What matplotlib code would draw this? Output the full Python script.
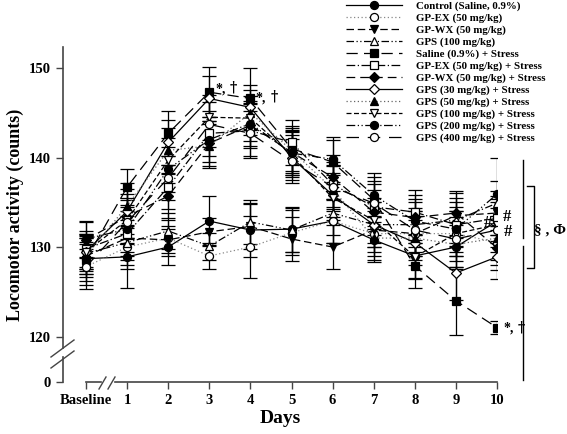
import numpy as np
import matplotlib
matplotlib.use('Agg')
from matplotlib import pyplot as plt
from matplotlib.lines import Line2D

plt.rcParams['font.family'] = ['Liberation Serif', 'DejaVu Serif']
plt.rcParams['font.weight'] = 'bold'

days = [0, 1, 2, 3, 4, 5, 6, 7, 8, 9, 10]
day_labels = ['Baseline', '1', '2', '3', '4', '5', '6', '7', '8', '9', '10']

# means (counts), baseline then day 1..10
control = [128.7, 128.9, 130.0, 132.9, 131.9, 132.0, 132.9, 130.8, 129.0, 130.0, 132.9]
gp_ex = [127.8, 130.0, 131.0, 129.0, 130.0, 131.6, 132.9, 131.5, 131.5, 131.5, 130.5]
gp_wx = [129.0, 131.0, 130.8, 131.7, 132.3, 130.9, 130.0, 131.9, 131.5, 133.5, 133.8]
gps100 = [129.3, 130.5, 131.8, 130.1, 132.8, 131.9, 133.8, 132.5, 132.5, 133.0, 134.9]
saline_s = [128.6, 136.7, 142.7, 147.3, 146.6, 141.0, 139.5, 135.3, 127.9, 124.0, 121.0]
gp_ex_s = [129.8, 131.5, 136.7, 142.7, 143.0, 141.7, 137.0, 134.5, 133.9, 132.5, 133.2]
gp_wx_s = [130.8, 133.4, 135.7, 141.6, 143.6, 140.6, 137.8, 133.9, 133.3, 133.8, 129.9]
gps30_s = [129.5, 134.0, 141.7, 146.6, 145.6, 140.0, 135.8, 132.5, 130.5, 127.1, 128.9]
gps50_s = [129.0, 134.6, 140.8, 141.3, 145.0, 140.8, 136.5, 131.0, 131.0, 130.3, 131.0]
gps100_s = [129.5, 133.0, 139.7, 144.5, 144.4, 140.3, 135.5, 133.0, 128.9, 131.5, 132.5]
gps200_s = [130.9, 132.0, 138.7, 142.0, 143.8, 140.5, 139.8, 135.8, 132.9, 132.0, 135.9]
gps400_s = [127.8, 132.8, 137.7, 143.7, 142.7, 139.6, 136.7, 134.9, 131.9, 130.9, 131.9]

# SEM
control_e = [2.5, 3.5, 2.0, 2.8, 3.0, 2.5, 2.5, 2.5, 2.5, 2.5, 2.5]
gp_ex_e = [2.5, 2.5, 2.0, 1.5, 3.5, 2.5, 2.5, 2.5, 2.5, 2.5, 2.5]
gp_wx_e = [2.0, 2.5, 1.5, 1.5, 2.5, 2.5, 2.5, 2.5, 2.5, 2.5, 2.5]
gps100_e = [2.0, 2.5, 2.0, 1.5, 2.5, 2.5, 2.5, 2.5, 2.5, 2.5, 2.5]
saline_s_e = [2.0, 2.0, 2.5, 2.8, 3.4, 2.5, 2.5, 2.5, 2.5, 3.8, 0.7]
gp_ex_s_e = [2.0, 2.5, 2.5, 2.5, 3.0, 2.5, 2.5, 2.5, 2.5, 2.5, 2.5]
gp_wx_s_e = [2.0, 2.5, 2.5, 2.5, 2.5, 2.5, 2.5, 2.5, 2.5, 2.5, 2.5]
gps30_s_e = [2.0, 2.5, 2.5, 2.5, 2.5, 2.5, 2.5, 2.5, 2.5, 3.0, 2.5]
gps50_s_e = [2.0, 2.5, 2.5, 2.5, 2.5, 2.5, 2.5, 2.5, 2.5, 2.5, 2.5]
gps100_s_e = [2.0, 2.5, 2.5, 2.5, 2.5, 2.5, 2.5, 2.5, 2.5, 2.5, 2.5]
gps200_s_e = [2.0, 2.5, 2.5, 2.5, 2.5, 2.5, 2.5, 2.5, 2.5, 2.5, 4.0]
gps400_s_e = [2.0, 2.5, 2.5, 2.5, 2.5, 2.5, 2.5, 2.5, 2.5, 2.5, 2.5]

labels = ['Control (Saline, 0.9%)', 'GP-EX (50 mg/kg)', 'GP-WX (50 mg/kg)', 'GPS (100 mg/kg)',
          'Saline (0.9%) + Stress', 'GP-EX (50 mg/kg) + Stress', 'GP-WX (50 mg/kg) + Stress',
          'GPS (30 mg/kg) + Stress', 'GPS (50 mg/kg) + Stress', 'GPS (100 mg/kg) + Stress',
          'GPS (200 mg/kg) + Stress', 'GPS (400 mg/kg) + Stress']
means = [control, gp_ex, gp_wx, gps100, saline_s, gp_ex_s, gp_wx_s, gps30_s, gps50_s,
         gps100_s, gps200_s, gps400_s]
errs = [control_e, gp_ex_e, gp_wx_e, gps100_e, saline_s_e, gp_ex_s_e, gp_wx_s_e, gps30_s_e,
        gps50_s_e, gps100_s_e, gps200_s_e, gps400_s_e]

# (linestyle, marker, filled, line colour)
styles = [
    ('-', 'o', True, 'black'),
    ((0, (1, 2)), 'o', False, '#888888'),
    ((0, (6, 3)), 'v', True, 'black'),
    ((0, (6, 2, 1, 2, 1, 2)), '^', False, 'black'),
    ((0, (9, 5)), 's', True, 'black'),
    ((0, (7, 2, 1, 2)), 's', False, 'black'),
    ((0, (7, 4)), 'D', True, 'black'),
    ('-', 'D', False, 'black'),
    ((0, (1, 2)), '^', True, '#666666'),
    ((0, (4, 2)), 'v', False, 'black'),
    ((0, (7, 2, 1, 2, 1, 2)), 'o', True, 'black'),
    ((0, (10, 7)), 'o', False, 'black'),
]

fig = plt.figure(figsize=(5.67, 4.34), dpi=100)
ax = fig.add_axes([63 / 567, 1 - 382 / 434, (497 - 63) / 567, (382 - 47) / 434])

handles = []
for m, e, lab, (ls, mk, filled, lc) in zip(means, errs, labels, styles):
    ms = 5.8 if mk != 'D' else 5.0
    ax.errorbar(days, m, yerr=e, fmt='none', ecolor='black', elinewidth=0.9,
                capsize=5, capthick=0.9, zorder=2)
    h, = ax.plot(days, m, linestyle=ls, color=lc, lw=0.9, marker=mk, ms=ms,
                 markerfacecolor='black' if filled else 'white',
                 markeredgecolor='black', markeredgewidth=0.9, label=lab, zorder=3)
    handles.append(h)

ax.set_xlim(-0.56, 10)
ax.set_ylim(114.92, 152.35)
ax.set_yticks([114.92, 120, 130, 140, 150])
ax.set_yticklabels(['0', '120', '130', '140', '150'])
ax.set_xticks(days)
ax.set_xticklabels(day_labels)
ax.tick_params(axis='both', labelsize=10.5, width=1, length=5, color='#444444')
ax.tick_params(axis='x', pad=4)
for s in ['top', 'right', 'left', 'bottom']:
    ax.spines[s].set_visible(False)

# axes drawn by hand, with breaks
ax.plot([-0.56, -0.56], [152.35, 118.72], color='#444444', lw=1.2, clip_on=False)
ax.plot([-0.56, -0.56], [117.71, 114.92], color='#444444', lw=1.2, clip_on=False)
ax.plot([0, 0.36], [114.92, 114.92], color='#444444', lw=1.2, clip_on=False)
ax.plot([0.71, 10], [114.92, 114.92], color='#444444', lw=1.2, clip_on=False)


def px(x, y):
    return x / 567, 1 - y / 434


for (x0, y0, x1, y1) in [(51, 357, 74, 340), (51, 368, 74, 351),
                         (99, 389, 106, 377), (108, 389, 115, 377)]:
    (a, b), (c, d) = px(x0, y0), px(x1, y1)
    fig.add_artist(Line2D([a, c], [b, d], color='#444444', lw=1.0))

ax.set_ylabel('Locomotor activity (counts)', fontsize=13, fontweight='bold', labelpad=4)
ax.set_xlabel('Days', fontsize=14, fontweight='bold', labelpad=2)

# significance marks
ax.text(3.15, 147.6, '*,', fontsize=10, ha='left', va='center')
ax.text(3.5, 147.8, '\u2020', fontsize=10, ha='left', va='center', family='DejaVu Serif')
ax.text(4.13, 146.6, '*,', fontsize=10, ha='left', va='center')
ax.text(4.5, 146.8, '\u2020', fontsize=10, ha='left', va='center', family='DejaVu Serif')
ax.text(10.15, 120.9, '*,', fontsize=10, ha='left', va='center', clip_on=False)
ax.text(10.5, 121.0, '\u2020', fontsize=10, ha='left', va='center', clip_on=False,
        family='DejaVu Serif')
ax.text(9.78, 132.7, '#', fontsize=12, ha='center', va='center')
ax.text(10.24, 133.3, '#', fontsize=12, ha='center', va='center', clip_on=False)
ax.text(10.26, 131.7, '#', fontsize=12, ha='center', va='center', clip_on=False)

ax.plot([10.63, 10.63], [139.7, 131.0], color='black', lw=1, clip_on=False)
ax.plot([10.63, 10.63], [130.1, 115.1], color='black', lw=1, clip_on=False)
ax.plot([10.72, 10.9, 10.9, 10.72], [136.8, 136.8, 127.7, 127.7], color='black', lw=1,
        clip_on=False)
ax.text(11.3, 131.9, '\u00a7 , \u03a6', fontsize=11, ha='center', va='center', clip_on=False)

fig.legend(handles=handles, loc='upper left', bbox_to_anchor=(345 / 567, 1.0),
           frameon=False, handlelength=5.2, handletextpad=1.3,
           labelspacing=0.2, borderpad=0.1, borderaxespad=0, numpoints=1,
           prop={'weight': 'bold', 'size': 7.8})

fig.savefig('out.png', dpi=100)
